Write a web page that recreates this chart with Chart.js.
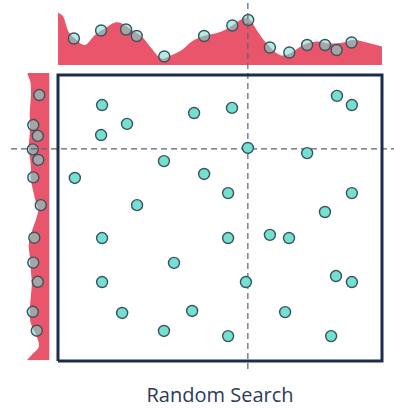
<!DOCTYPE html>
<html>
<head>
<meta charset="utf-8">
<script src="https://cdn.jsdelivr.net/npm/chart.js@4.4.0/dist/chart.umd.min.js"></script>
<style>
  body { margin: 0; background: #fff; }
  #wrap { position: relative; width: 394px; height: 409px; }
  #caption {
    position: absolute; left: 58px; width: 324px; top: 382px;
    text-align: center; font-family: 'Open Sans', sans-serif; font-size: 20px;
    line-height: 26px; color: #2b3b58;
  }
</style>
</head>
<body>
<div id="wrap">
  <canvas id="searchChart" width="394" height="374"></canvas>
  <div id="caption">Random Search</div>
</div>
<script>
// sampled points in the search space, both params on 0..100
var pointsX = [13.6, 42.0, 53.7, 21.3, 13.3, 58.6, 32.7, 5.2, 45.1, 52.5, 24.4, 86.1, 90.7, 76.9, 90.7, 82.4,
               13.6, 52.5, 35.8, 13.6, 58.0, 19.8, 41.4, 32.7, 52.5, 65.4, 71.3, 85.8, 90.7, 70.1, 84.3];
var pointsY = [89.5, 86.7, 88.5, 82.9, 79.0, 74.5, 69.9, 64.0, 65.4, 58.7, 54.5, 92.7, 89.5, 72.7, 58.7, 52.1,
               43.0, 43.0, 34.3, 27.6, 27.6, 16.8, 17.5, 10.5, 8.7, 44.1, 43.0, 29.7, 27.6, 17.1, 8.7];

// best point (dashed cross)
var bestX = 58.6;
var bestY = 74.2;

// top marginal (param 1)
var topCurveX = [0, 1.6, 3.2, 5.2, 8.3, 11.4, 14.5, 17.6, 19.7, 22.7, 25.8, 28.9, 32.0, 35.1, 38.2, 41.3, 44.4,
                 48.5, 51.5, 54.1, 57.2, 59.3, 61.3, 64.4, 68.5, 71.6, 75.7, 79.8, 84.0, 88.1, 91.1, 95.3, 100];
var topCurveH = [10.5, 9.7, 6.7, 5.3, 4.0, 6.0, 7.3, 8.5, 8.3, 7.0, 5.7, 3.3, 1.3, 2.0, 3.0, 4.7, 5.7,
                 6.3, 7.0, 8.0, 9.3, 9.0, 7.0, 4.3, 2.0, 2.3, 4.0, 4.7, 4.3, 4.5, 5.0, 4.5, 3.7];
var topPointsX = [4.9, 13.3, 21.0, 24.3, 32.8, 45.1, 53.8, 58.7, 65.4, 71.4, 76.9, 82.4, 86.0, 90.6];
var topPointsH = [5.3, 6.9, 7.1, 5.8, 1.7, 5.8, 7.9, 9.0, 3.5, 2.5, 4.0, 4.0, 3.0, 4.5];

// left marginal (param 2)
var leftCurveY = [100.7, 100, 98.3, 96.5, 92.0, 87.2, 80.2, 74.4, 68.5, 63.9, 59.2, 54.5, 52.8, 49.3, 45.8,
                  41.2, 36.5, 31.8, 27.2, 22.5, 17.8, 13.2, 8.5, 5.0, 2.7, 0.3];
var leftCurveW = [4.3, 4.3, 3.9, 3.7, 3.7, 3.9, 3.9, 4.1, 3.7, 3.7, 3.2, 2.5, 2.2, 2.7, 3.4,
                  4.1, 3.9, 3.7, 3.5, 3.7, 3.9, 3.7, 2.5, 2.1, 3.2, 4.5];
var leftPointsY = [93.0, 82.5, 78.7, 74.0, 70.3, 64.2, 54.5, 43.1, 34.4, 27.7, 17.2, 10.6];
var leftPointsW = [2.0, 3.2, 2.3, 3.3, 2.2, 3.2, 1.7, 3.0, 3.2, 2.3, 3.3, 2.5];

var range = [0, 100];

// layout (px) of the plot area
var W = 394, H = 374;
var box = {left: 58, right: 382, top: 75, bottom: 361};
var pxX = (box.right - box.left) / 100;
var pxY = (box.bottom - box.top) / 100;
var topBase = 65, leftBase = 49.3, pxD = 5;

function valX(px) { return (px - box.left) / pxX; }
function valY(px) { return (box.bottom - px) / pxY; }

function pairs(xs, ys) {
  return xs.map(function (v, i) { return {x: v, y: ys[i]}; });
}

var red = '#e9566c';
var teal = '#74e0cf';
var tealSoft = 'rgba(116,224,207,0.57)';
var ink = '#3b5262';

var chart = new Chart(document.getElementById('searchChart'), {
  type: 'line',
  data: {
    datasets: [
      {
        type: 'scatter',
        data: pairs(pointsX, pointsY),
        backgroundColor: teal,
        borderColor: ink,
        borderWidth: 1.4,
        pointRadius: 5.5,
        order: 0
      },
      {
        data: [{x: range[0], y: range[0]}, {x: range[0], y: range[1]}, {x: range[1], y: range[1]},
               {x: range[1], y: range[0]}, {x: range[0], y: range[0]}],
        borderColor: '#1b2c4c',
        borderWidth: 3,
        borderJoinStyle: 'miter',
        pointRadius: 0,
        fill: false,
        order: 1
      },
      {
        data: [{x: bestX, y: valY(3)}, {x: bestX, y: valY(372)}],
        borderColor: '#5b6272',
        borderWidth: 1.2,
        borderDash: [6, 4],
        pointRadius: 0,
        fill: false,
        order: 2
      },
      {
        data: [{x: valX(11), y: bestY}, {x: valX(394), y: bestY}],
        borderColor: '#5b6272',
        borderWidth: 1.2,
        borderDash: [6, 4],
        pointRadius: 0,
        fill: false,
        order: 2
      },
      {
        type: 'scatter',
        yAxisID: 'yTop',
        data: pairs(topPointsX, topPointsH),
        backgroundColor: tealSoft,
        borderColor: ink,
        borderWidth: 1.4,
        pointRadius: 5.5,
        order: 3
      },
      {
        type: 'scatter',
        xAxisID: 'xLeft',
        data: pairs(leftPointsW, leftPointsY),
        backgroundColor: tealSoft,
        borderColor: ink,
        borderWidth: 1.4,
        pointRadius: 5.5,
        order: 3
      },
      {
        yAxisID: 'yTop',
        data: pairs(topCurveX, topCurveH),
        backgroundColor: red,
        borderWidth: 0,
        pointRadius: 0,
        tension: 0.35,
        fill: 'origin',
        order: 4
      },
      {
        indexAxis: 'y',
        xAxisID: 'xLeft',
        data: pairs(leftCurveW, leftCurveY),
        backgroundColor: red,
        borderWidth: 0,
        pointRadius: 0,
        tension: 0.35,
        fill: 'origin',
        order: 4
      }
    ]
  },
  options: {
    responsive: false,
    animation: false,
    events: [],
    layout: { padding: 0, autoPadding: false },
    scales: {
      x: { type: 'linear', display: false, min: -box.left / pxX, max: (W - box.left) / pxX },
      y: { type: 'linear', display: false, min: -(H - box.bottom) / pxY, max: 100 + box.top / pxY },
      yTop: { type: 'linear', display: false, position: 'left', min: (topBase - H) / pxD, max: topBase / pxD },
      xLeft: { type: 'linear', display: false, position: 'bottom', reverse: true,
               min: -(W - leftBase) / pxD, max: leftBase / pxD }
    },
    plugins: {
      legend: { display: false },
      tooltip: { enabled: false }
    }
  }
});
</script>
</body>
</html>
